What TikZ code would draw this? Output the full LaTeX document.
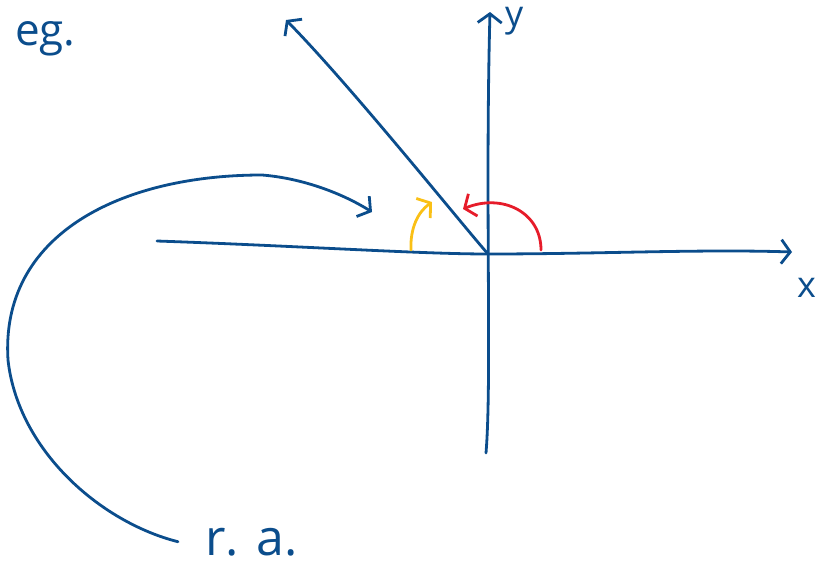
\documentclass[tikz,border=0pt]{standalone}
\usepackage{fontspec}
\newfontfamily\handfont{Open Sans}
\usetikzlibrary{arrows.meta}
\definecolor{sketchink}{rgb}{0.043,0.302,0.549}
\definecolor{sketchred}{rgb}{0.902,0.110,0.165}
\definecolor{sketchyellow}{rgb}{0.980,0.753,0.086}
\begin{document}
\begin{tikzpicture}
% TikZ sketch of a ray and its reference angle
\def\pxsz{1pt}
\providecommand{\sketchInkColor}{sketchink}
\providecommand{\sketchRedColor}{sketchred}
\providecommand{\sketchYellowColor}{sketchyellow}
\providecommand{\sketchLineWidth}{2.8pt}
\begin{scope}[x=\pxsz, y=-\pxsz, line cap=round, line join=round,
  ink/.style={draw=\sketchInkColor, line width=\sketchLineWidth},
  barb/.style={-{Straight Barb[length=9pt,width=24pt,line width=\sketchLineWidth]}},
  handtext/.style={text=\sketchInkColor, inner sep=0pt}]
  % Page size as in the sketch
  \useasboundingbox (0,0) rectangle (825,570);
  % Points of the axes and the ray
  \coordinate (origin) at (488,254);
  \coordinate (xstart) at (157,241);
  \coordinate (xend) at (792,252);
  \coordinate (ybottom) at (486,453);
  \coordinate (ytop) at (490,12);
  \coordinate (raytip) at (286,20);
  \coordinate (swirltip) at (372,212);
  \coordinate (redstart) at (541,250);
  \coordinate (redtip) at (463,209);
  \coordinate (yellowstart) at (411,250);
  \coordinate (yellowtip) at (432,202);
  % Labels
  \node[handtext, anchor=base west, font=\handfont\fontsize{44}{44}\selectfont] (eg) at (15,45) {eg.};
  \node[handtext, anchor=base west, inner xsep=27pt, font=\handfont\fontsize{50}{50}\selectfont] (ra) at (178,555) {r. a.};
  \node[handtext, anchor=base west, font=\handfont\fontsize{36}{36}\selectfont] (xlabel) at (797,297) {x};
  \node[handtext, anchor=base west, font=\handfont\fontsize{36}{36}\selectfont] (ylabel) at (505,26) {y};
  % Axes
  \draw[ink, barb] (xstart) .. controls (300,246) and (420,254) .. (origin)
    .. controls (600,254) and (700,249) .. (xend);
  \draw[ink, barb] (ybottom) .. controls (492,380) and (485,200) .. (ytop);
  % Terminal ray
  \draw[ink, barb] (origin) .. controls (460,222) and (350,85) .. (raytip);
  % Swirl from the label to the angle
  \draw[ink, barb] (ra.west) .. controls (100,522) and (18,450) .. (8,360)
    .. controls (0,235) and (120,175) .. (262,175)
    .. controls (300,178) and (340,192) .. (swirltip);
  % Angles
  \draw[draw=\sketchRedColor, line width=\sketchLineWidth, barb] (redstart) .. controls (541,212) and (502,193) .. (redtip);
  \draw[draw=\sketchYellowColor, line width=\sketchLineWidth, barb] (yellowstart) .. controls (410,228) and (418,212) .. (yellowtip);
\end{scope}
\end{tikzpicture}
\end{document}
